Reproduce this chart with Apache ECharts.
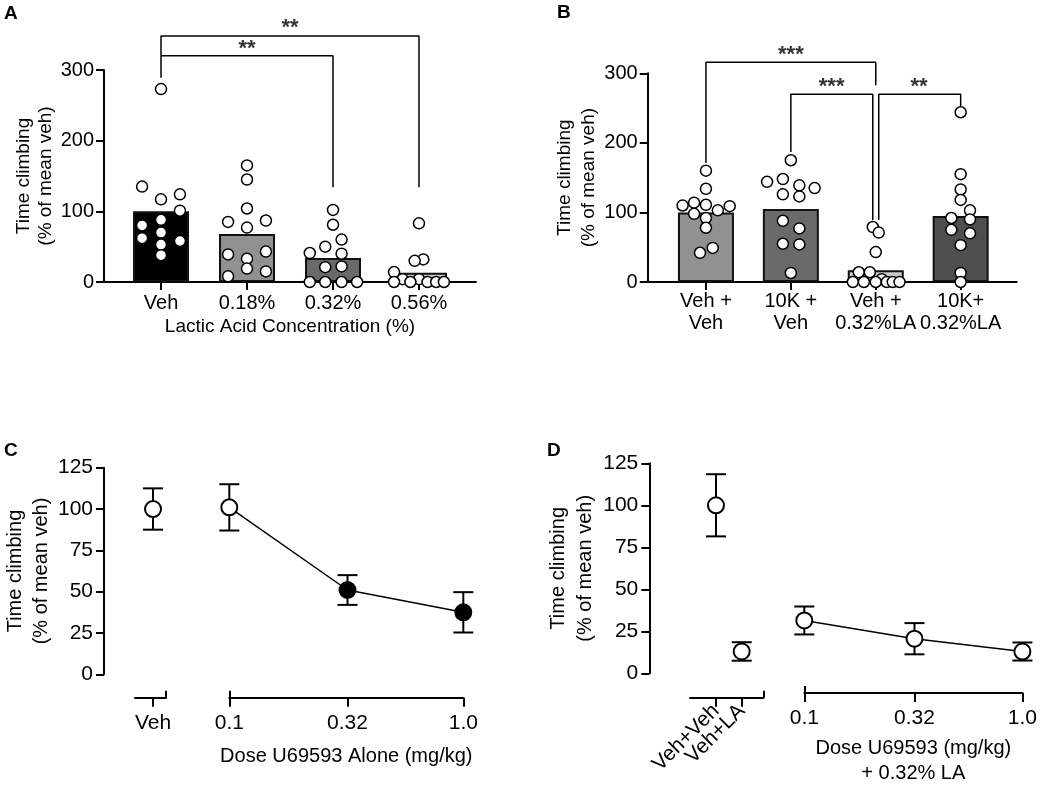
<!DOCTYPE html>
<html style="height: 100%">

<head>
    <meta charset="utf-8">
    <script src="https://cdn.jsdelivr.net/npm/echarts@6/dist/echarts.min.js"></script>
</head>

<body style="height: 100%; margin: 0; background: #fff">
    <div id="chart" style="width: 1040px; height: 787px"></div>
    <script type="text/javascript">
        var FONT = '"Liberation Sans", Arial, Helvetica, sans-serif';

        // A: lactic acid concentration, individual animals + mean bars
        var catsA = ['Veh', '0.18%', '0.32%', '0.56%'];
        var meansA = [100, 68, 34, 13];
        var dotsA = [
            [273, 135, 117, 124, 101, 80, 88, 62, 70, 58, 53, 38],
            [165, 145, 104, 85, 87, 77, 39, 43, 33, 19, 15, 8],
            [102, 81, 60, 50, 41, 40, 21, 22, 0, 0, 0, 0],
            [83, 32, 30, 14, 4, 4, 0, 0, 0, 0, 0]
        ];
        // horizontal scatter of the dots, in category units
        var jitterA = [
            [0, -0.22, 0, 0.22, 0.22, -0.22, 0, -0.22, 0, 0.22, 0, 0],
            [0, 0, 0, -0.22, 0.22, 0, -0.22, 0.22, 0, 0, 0.22, -0.22],
            [0, 0, 0.1, -0.09, -0.27, 0.1, -0.09, 0.1, -0.27, -0.09, 0.1, 0.28],
            [0, 0.05, -0.05, -0.29, -0.19, 0, -0.29, -0.1, 0.1, 0.2, 0.29]
        ];
        // [from, to, top, left end, right end]
        var bracketsA = [
            [0, 3, 348, 289, 134],
            [0, 2, 320, 320, 134]
        ];
        var starsA = [['**', 1.5, 359], ['**', 1.0, 330]];

        // B: nor-BNI (10K) pretreatment
        var catsB = ['Veh +\nVeh', '10K +\nVeh', 'Veh +\n0.32%LA', '10K+\n0.32%LA'];
        var meansB = [100, 105, 17, 95];
        var dotsB = [
            [160, 134, 110, 114, 111, 109, 98, 103, 92, 78, 49, 42],
            [175, 144, 148, 139, 135, 126, 123, 88, 77, 55, 54, 13],
            [79, 71, 43, 14, 14, 4, 0, 0, 0, 0, 0, 0],
            [244, 155, 133, 118, 103, 92, 90, 75, 70, 53, 13, 0]
        ];
        var jitterB = [
            [0, 0, -0.275, -0.14, 0, 0.28, -0.14, 0.14, 0, 0, 0.08, -0.07],
            [0, -0.28, -0.094, 0.1, 0.28, -0.094, 0.1, -0.094, 0.1, -0.094, 0.1, 0],
            [-0.035, 0.035, 0, -0.2, -0.07, 0.07, -0.27, -0.14, 0, 0.13, 0.2, 0.28],
            [0, 0, 0, 0, 0.11, -0.11, 0.11, -0.11, 0.11, 0, 0, 0]
        ];
        var bracketsB = [
            [0, 2, 316, 171, 283],
            [1, 1.965, 270, 187, 89],
            [2.035, 3, 270, 89, 253]
        ];
        var starsB = [['***', 1.0, 326], ['***', 1.48, 281], ['**', 2.51, 281]];

        // C: U69593 alone, mean +/- SEM
        var vehC = [100, 12.5];
        var dosesC = [0.1, 0.32, 1.0];
        var doseLabels = ['0.1', '0.32', '1.0'];
        var meansC = [101, 51, 37.5];
        var semC = [14, 9, 12.2];
        var sigC = [false, true, true];

        // D: U69593 + 0.32% LA
        var ctrlD = ['Veh+Veh', 'Veh+LA'];
        var ctrlMeansD = [100, 13];
        var ctrlSemD = [18.5, 5.5];
        var dosesD = [0.1, 0.32, 1.0];
        var meansD = [29.3, 18.2, 10.4];
        var semD = [8.5, 9.5, 5.5];

        var barColorsA = ['#000000', '#919191', '#6a6a6a', '#c9c9c9'];
        var barColorsB = ['#919191', '#6a6a6a', '#c9c9c9', '#4e4e4e'];

        var line2 = { color: '#000', width: 2 };

        function doseLabel(v) {
            var best = 0;
            for (var i = 1; i < dosesC.length; i++) {
                if (Math.abs(dosesC[i] - v) < Math.abs(dosesC[best] - v)) best = i;
            }
            return doseLabels[best];
        }

        function yAxisDef(grid, max, interval, o) {
            return {
                type: 'value', gridIndex: grid, min: 0, max: max, interval: interval,
                show: o.show !== false, offset: o.offset || 0,
                axisLine: { show: true, onZero: false, lineStyle: line2 },
                axisTick: { show: true, length: 8, lineStyle: line2 },
                axisLabel: { color: '#000', fontSize: o.fs, fontFamily: FONT, margin: o.margin },
                splitLine: { show: false },
                name: o.name ? 'Time climbing\n(% of mean veh)' : '',
                nameLocation: 'middle', nameGap: o.gap, nameRotate: 90,
                nameTextStyle: { color: '#000', fontSize: o.nfs, lineHeight: o.lh, fontFamily: FONT }
            };
        }

        function barXAxis(grid, min, max, cats, o) {
            var ticks = cats.map(function (c, i) { return i; });
            return {
                type: 'value', gridIndex: grid, min: min, max: max, position: 'bottom',
                axisLine: { onZero: false, lineStyle: line2 },
                axisTick: { length: 8, lineStyle: line2, customValues: ticks },
                axisLabel: {
                    customValues: ticks, color: '#000', fontSize: 20, fontFamily: FONT,
                    margin: o.margin, lineHeight: 22,
                    formatter: function (v) { return cats[Math.round(v)]; }
                },
                splitLine: { show: false },
                name: o.name || '', nameLocation: 'middle', nameGap: o.gap || 0,
                nameTextStyle: { color: '#000', fontSize: 19, fontFamily: FONT }
            };
        }

        function brokenXAxis(grid, type, min, max, ticks, fmt, o) {
            var ax = {
                type: type, gridIndex: grid, min: min, max: max, offset: o.offset, position: 'bottom',
                axisLine: { show: o.line !== false, onZero: false, lineStyle: line2 },
                axisTick: { length: 9, lineStyle: line2, customValues: ticks },
                axisLabel: {
                    customValues: ticks, color: '#000', fontSize: 21, fontFamily: FONT,
                    margin: o.margin, rotate: o.rotate || 0, formatter: fmt,
                    showMinLabel: true, showMaxLabel: true, hideOverlap: false
                },
                splitLine: { show: false },
                name: o.name || '', nameLocation: 'middle', nameGap: o.gap || 0,
                nameTextStyle: { color: '#000', fontSize: 20, lineHeight: 25, fontFamily: FONT }
            };
            if (type === 'log') ax.logBase = 10;
            return ax;
        }

        // short upward tick marking the end of a broken axis segment
        function capAxis(grid, type, min, max, at, offset) {
            var ax = {
                type: type, gridIndex: grid, min: min, max: max, offset: offset, position: 'bottom',
                axisLine: { show: false, onZero: false },
                axisTick: { inside: true, length: 7, lineStyle: line2, customValues: [at] },
                axisLabel: { show: false },
                splitLine: { show: false }
            };
            if (type === 'log') ax.logBase = 10;
            return ax;
        }

        function renderErr(params, api) {
            var x = api.value(0), m = api.value(1), e = api.value(2);
            var top = api.coord([x, m + e]);
            var bot = api.coord([x, m - e]);
            var half = 10;
            var st = { stroke: '#000', lineWidth: 2 };
            return {
                type: 'group', children: [
                    { type: 'line', shape: { x1: top[0], y1: top[1], x2: bot[0], y2: bot[1] }, style: st },
                    { type: 'line', shape: { x1: top[0] - half, y1: top[1], x2: top[0] + half, y2: top[1] }, style: st },
                    { type: 'line', shape: { x1: bot[0] - half, y1: bot[1], x2: bot[0] + half, y2: bot[1] }, style: st }
                ]
            };
        }

        function errSeries(axis, xs, means, sems) {
            return {
                type: 'custom', xAxisIndex: axis, yAxisIndex: axis, renderItem: renderErr,
                encode: { x: 0, y: 1 }, silent: true, z: 1,
                data: xs.map(function (x, i) { return [x, means[i], sems[i]]; })
            };
        }

        function barSeries(axis, means, colors) {
            return {
                type: 'bar', xAxisIndex: axis, yAxisIndex: axis, barWidth: 56, silent: true, z: 1,
                data: means.map(function (v, i) {
                    return { value: [i, v], itemStyle: { color: colors[i], borderColor: '#111', borderWidth: 2 } };
                })
            };
        }

        function dotSeries(axis, dots, jitter) {
            var data = [];
            dots.forEach(function (grp, i) {
                grp.forEach(function (v, j) { data.push([i + jitter[i][j], v]); });
            });
            return {
                type: 'scatter', xAxisIndex: axis, yAxisIndex: axis, symbolSize: 11, clip: false,
                silent: true, z: 3, data: data,
                itemStyle: { color: '#fff', borderColor: '#000', borderWidth: 1.5, opacity: 1 }
            };
        }

        function bracketSeries(axis, brackets) {
            return brackets.map(function (b) {
                return {
                    type: 'line', xAxisIndex: axis, yAxisIndex: axis, symbol: 'none', clip: false,
                    silent: true, z: 4, lineStyle: { color: '#000', width: 1.5 },
                    data: [[b[0], b[3]], [b[0], b[2]], [b[1], b[2]], [b[1], b[4]]]
                };
            });
        }

        function starSeries(axis, stars) {
            return {
                type: 'scatter', xAxisIndex: axis, yAxisIndex: axis, symbolSize: 0, clip: false,
                silent: true, z: 5,
                data: stars.map(function (s) { return { value: [s[1], s[2]], name: s[0] }; }),
                label: {
                    show: true, position: 'inside', formatter: '{b}', color: '#000',
                    fontSize: 22, fontWeight: 'bold', fontFamily: FONT
                }
            };
        }

        var openMarker = { color: '#fff', borderColor: '#000', borderWidth: 2, opacity: 1 };

        var myChart = echarts.init(document.getElementById('chart'), null, { renderer: 'canvas' });

        var letterStyle = { color: '#000', fontSize: 19, fontWeight: 'bold', fontFamily: FONT };
        var ctrlFmt = function (v) { return ctrlD[Math.round(v) - 1]; };

        myChart.setOption({
            animation: false,
            backgroundColor: '#fff',
            title: [
                { text: 'A', left: 4, top: 4, padding: 0, textStyle: letterStyle },
                { text: 'B', left: 557, top: 3, padding: 0, textStyle: letterStyle },
                { text: 'C', left: 4, top: 441, padding: 0, textStyle: letterStyle },
                { text: 'D', left: 547, top: 441, padding: 0, textStyle: letterStyle }
            ],
            grid: [
                { left: 104, top: 70, width: 372, height: 212 },
                { left: 647.7, top: 73.3, width: 369, height: 208.7 },
                { left: 135, top: 467.7, width: 31, height: 206.6 },
                { left: 229.3, top: 467.7, width: 234, height: 206.6 },
                { left: 690, top: 463.3, width: 73.3, height: 210 },
                { left: 804.3, top: 463.3, width: 218.4, height: 210 }
            ],
            xAxis: [
                barXAxis(0, -0.663, 3.663, catsA, { margin: 10, name: 'Lactic Acid Concentration (%)', gap: 35 }),
                barXAxis(1, -0.686, 3.66, catsB, { margin: 8 }),
                brokenXAxis(2, 'value', -1, 0.72, [0], function () { return 'Veh'; }, { offset: 23.4, margin: 15 }),
                brokenXAxis(3, 'log', 0.1, 1, dosesC, doseLabel,
                    { offset: 23.4, margin: 15, name: 'Dose U69593 Alone (mg/kg)', gap: 46 }),
                brokenXAxis(4, 'value', -0.01, 2.84, [1], ctrlFmt, { offset: 24.4, margin: 10, rotate: 45 }),
                brokenXAxis(5, 'log', 0.1, 1, dosesD, doseLabel,
                    { offset: 24.4, margin: 15, name: 'Dose U69593 (mg/kg)\n+ 0.32% LA', gap: 43 }),
                capAxis(2, 'value', -1, 0.72, 0.72, 23.4),
                capAxis(3, 'log', 0.1, 1, 0.1, 23.4),
                capAxis(4, 'value', -0.01, 2.84, 2.84, 24.4),
                capAxis(5, 'log', 0.1, 1, 0.1, 24.4),
                // second control group of D on its own axis so its rotated label is not dropped
                brokenXAxis(4, 'value', -0.01, 2.84, [2], ctrlFmt, { offset: 24.4, margin: 10, rotate: 45, line: false })
            ],
            yAxis: [
                yAxisDef(0, 300, 100, { fs: 20, margin: 10, name: true, gap: 46, nfs: 19, lh: 22 }),
                yAxisDef(1, 300, 100, { fs: 20, margin: 10, name: true, gap: 45, nfs: 19, lh: 24 }),
                yAxisDef(2, 125, 25, { fs: 21, margin: 11, name: true, gap: 49, nfs: 20, lh: 26, offset: 31 }),
                yAxisDef(3, 125, 25, { show: false }),
                yAxisDef(4, 125, 25, { fs: 21, margin: 11, name: true, gap: 49, nfs: 20, lh: 27, offset: 40.7 }),
                yAxisDef(5, 125, 25, { show: false })
            ],
            series: [].concat(
                [barSeries(0, meansA, barColorsA), dotSeries(0, dotsA, jitterA)],
                bracketSeries(0, bracketsA),
                [starSeries(0, starsA)],
                [barSeries(1, meansB, barColorsB), dotSeries(1, dotsB, jitterB)],
                bracketSeries(1, bracketsB),
                [starSeries(1, starsB)],
                [
                    errSeries(2, [0], [vehC[0]], [vehC[1]]),
                    {
                        type: 'scatter', xAxisIndex: 2, yAxisIndex: 2, symbolSize: 16, clip: false,
                        silent: true, z: 3, data: [[0, vehC[0]]], itemStyle: openMarker
                    },
                    errSeries(3, dosesC, meansC, semC),
                    {
                        type: 'line', xAxisIndex: 3, yAxisIndex: 3, symbol: 'circle', symbolSize: 16,
                        silent: true, z: 3, lineStyle: { color: '#000', width: 1.5 },
                        itemStyle: openMarker,
                        data: dosesC.map(function (d, i) {
                            return {
                                value: [d, meansC[i]],
                                itemStyle: sigC[i] ? { color: '#000', borderColor: '#000' } : openMarker
                            };
                        })
                    },
                    errSeries(4, [1, 2], ctrlMeansD, ctrlSemD),
                    {
                        type: 'scatter', xAxisIndex: 4, yAxisIndex: 4, symbolSize: 16, clip: false,
                        silent: true, z: 3, itemStyle: openMarker,
                        data: ctrlMeansD.map(function (m, i) { return [i + 1, m]; })
                    },
                    errSeries(5, dosesD, meansD, semD),
                    {
                        type: 'line', xAxisIndex: 5, yAxisIndex: 5, symbol: 'circle', symbolSize: 16,
                        silent: true, z: 3, lineStyle: { color: '#000', width: 1.5 },
                        itemStyle: openMarker,
                        data: dosesD.map(function (d, i) { return [d, meansD[i]]; })
                    }
                ]
            )
        });
    </script>
</body>

</html>
